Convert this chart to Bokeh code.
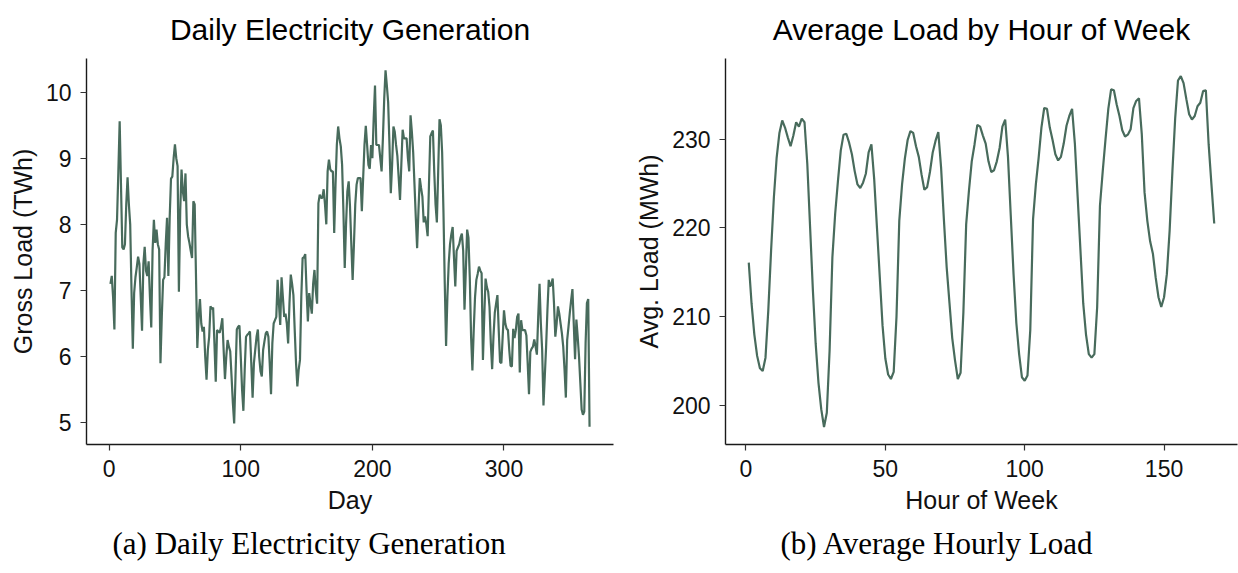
from bokeh.plotting import figure
from bokeh.models import Range1d, FixedTicker, Title
from bokeh.layouts import row
from bokeh.embed import file_html
from bokeh.resources import INLINE

# ---------------- data ----------------
gross_load = [
    7.10, 7.22, 6.90, 6.41, 7.87, 8.07, 8.80, 9.56, 8.60, 7.65,
    7.62, 7.70, 8.30, 8.71, 8.30, 8.00, 7.00, 6.12, 6.96, 7.20,
    7.35, 7.51, 7.40, 6.90, 6.39, 7.40, 7.66, 7.30, 7.22, 7.44,
    6.90, 6.44, 7.60, 8.07, 7.72, 7.92, 7.70, 7.62, 5.90, 6.60,
    7.16, 7.20, 7.70, 8.10, 7.22, 8.10, 8.69, 8.72, 9.00, 9.21,
    9.00, 8.88, 6.98, 8.20, 8.83, 8.50, 8.35, 8.77, 8.00, 7.82,
    7.72, 7.60, 7.49, 8.35, 8.30, 7.20, 6.13, 6.60, 6.87, 6.50,
    6.38, 6.45, 6.00, 5.65, 6.10, 6.30, 6.76, 6.72, 6.74, 6.20,
    5.62, 6.40, 6.38, 6.36, 6.45, 6.58, 6.10, 5.66, 6.00, 6.25,
    6.15, 6.08, 5.70, 5.30, 4.99, 5.70, 6.41, 6.45, 6.47, 6.00,
    5.50, 5.18, 5.80, 6.30, 6.33, 6.35, 6.38, 5.90, 5.38, 5.90,
    6.10, 6.30, 6.41, 6.00, 5.78, 5.70, 6.10, 6.23, 6.35, 6.38,
    6.30, 5.90, 5.43, 6.20, 6.50, 6.55, 6.60, 7.16, 6.80, 6.48,
    7.20, 6.90, 6.60, 6.65, 6.50, 6.20, 6.80, 7.24, 7.10, 6.93,
    6.40, 5.90, 5.55, 5.80, 5.95, 6.90, 7.49, 7.50, 7.55, 7.00,
    6.53, 6.96, 6.80, 6.65, 7.10, 7.31, 7.00, 6.80, 8.32, 8.45,
    8.40, 8.40, 8.53, 8.30, 8.00, 8.80, 8.98, 8.83, 8.80, 8.80,
    7.87, 8.60, 9.20, 9.48, 9.30, 9.18, 8.90, 8.20, 7.34, 8.00,
    8.50, 8.65, 8.27, 7.70, 7.16, 7.70, 8.30, 8.60, 8.70, 8.70,
    8.70, 8.20, 8.70, 9.20, 9.49, 9.20, 8.90, 8.84, 9.20, 9.00,
    9.60, 10.10, 9.20, 9.20, 9.20, 9.00, 8.80, 9.30, 9.90, 10.33,
    10.10, 9.84, 9.20, 8.47, 8.90, 9.48, 9.40, 9.20, 9.03, 8.70,
    8.37, 8.90, 9.43, 9.30, 9.30, 9.30, 9.00, 8.80, 9.65, 9.40,
    9.09, 8.60, 8.10, 7.64, 8.20, 8.70, 8.55, 8.42, 8.03, 8.12,
    8.00, 7.82, 8.60, 9.33, 9.38, 9.42, 8.80, 8.30, 8.03, 8.80,
    9.59, 9.50, 9.09, 8.20, 7.10, 6.16, 6.90, 7.41, 7.70, 7.85,
    7.96, 7.50, 7.06, 7.60, 7.65, 7.70, 7.80, 7.86, 7.60, 6.71,
    7.30, 7.92, 7.80, 7.20, 6.30, 5.79, 6.40, 6.90, 7.16, 7.25,
    7.36, 7.30, 7.26, 5.95, 6.60, 7.18, 7.05, 6.98, 6.75, 6.20,
    5.81, 6.30, 6.66, 6.80, 6.93, 6.40, 5.92, 5.90, 6.30, 6.70,
    6.50, 6.42, 6.40, 6.10, 5.86, 5.85, 6.42, 6.28, 6.40, 6.60,
    6.65, 5.76, 6.55, 6.40, 6.40, 6.40, 6.32, 5.90, 5.43, 6.07,
    6.12, 6.15, 6.26, 6.15, 6.03, 6.60, 7.10, 6.50, 6.10, 5.26,
    5.70, 6.15, 6.70, 7.16, 7.06, 7.10, 7.18, 6.80, 6.30, 6.50,
    6.76, 6.65, 6.50, 6.35, 6.15, 5.80, 5.38, 6.25, 6.45, 6.66,
    6.85, 7.02, 6.50, 5.96, 6.56, 6.30, 6.00, 5.60, 5.20, 5.12,
    5.17, 6.20, 6.81, 6.87, 4.94,
]
days = list(range(1, len(gross_load) + 1))

avg_load = [
    216.1, 211.5, 208.0, 205.6, 204.2, 203.9, 205.4, 210.7, 217.4, 223.4,
    227.9, 230.7, 232.1, 231.3, 230.2, 229.2, 230.4, 231.9, 231.4, 232.3,
    231.9, 227.2, 220.1, 213.0, 207.0, 202.6, 199.6, 197.6, 199.2, 206.2,
    216.7, 221.6, 225.3, 228.7, 230.5, 230.6, 229.6, 228.3, 226.4, 224.9,
    224.5, 225.1, 226.1, 228.5, 229.4, 225.5, 220.0, 214.5, 209.0, 205.3,
    203.5, 203.0, 203.8, 210.0, 220.8, 224.9, 227.8, 229.9, 230.9, 230.7,
    229.2, 228.0, 226.0, 224.3, 224.6, 226.3, 228.5, 229.8, 230.8, 226.8,
    221.0, 215.6, 211.6, 207.6, 205.1, 203.0, 203.7, 210.5, 220.4, 224.2,
    227.5, 229.4, 231.6, 231.4, 230.4, 229.5, 227.5, 226.3, 226.5, 227.5,
    229.0, 231.4, 232.2, 228.0, 221.4, 214.8, 209.3, 205.8, 203.2, 202.8,
    203.4, 208.5, 221.0, 224.9, 227.9, 231.3, 233.5, 233.4, 231.3, 229.9,
    228.3, 227.6, 228.0, 229.5, 231.5, 232.6, 233.4, 229.5, 223.5, 217.5,
    211.5, 208.0, 205.8, 205.4, 205.8, 211.1, 222.5, 226.4, 230.0, 233.4,
    235.6, 235.5, 233.9, 232.6, 231.0, 230.3, 230.5, 231.1, 233.5, 234.3,
    234.6, 230.6, 224.0, 220.8, 218.5, 217.1, 214.4, 212.2, 211.1, 212.2,
    214.8, 219.7, 226.4, 232.4, 236.6, 237.1, 236.3, 234.5, 232.8, 232.2,
    232.6, 233.7, 234.1, 235.4, 235.5, 229.4, 224.9, 220.5,
]
hours = list(range(1, len(avg_load) + 1))

day_ticks = [0, 100, 200, 300]
gross_ticks = [5, 6, 7, 8, 9, 10]
hour_ticks = [0, 50, 100, 150]
avg_ticks = [200, 210, 220, 230]

LINE_COLOR = "#486b5c"
SANS = "Liberation Sans"
SERIF = "Liberation Serif"


def padded(vals, lo_frac=0.05, hi_frac=0.05):
    lo, hi = min(vals), max(vals)
    span = hi - lo
    return Range1d(lo - span * lo_frac, hi + span * hi_frac)


def make_panel(x, y, xticks, yticks, title, xlabel, ylabel, caption, cap_offset,
               width, bl, br, y_hi_frac=0.05):
    p = figure(width=width, height=573, output_backend="svg",
               toolbar_location=None, x_range=padded(x),
               y_range=padded(y, 0.05, y_hi_frac),
               min_border_left=bl, min_border_right=br,
               min_border_top=58, min_border_bottom=129)
    p.line(x, y, line_color=LINE_COLOR, line_width=2.2)
    p.xgrid.visible = False
    p.ygrid.visible = False
    p.outline_line_color = None
    p.background_fill_color = "white"
    p.border_fill_color = "white"

    p.title.text = title
    p.title.align = "center"
    p.title.vertical_align = "top"
    p.title.text_font = SANS
    p.title.text_font_size = "30px"
    p.title.text_font_style = "normal"
    p.title.text_color = "#000000"
    p.title.standoff = 22

    p.xaxis.ticker = FixedTicker(ticks=xticks)
    p.yaxis.ticker = FixedTicker(ticks=yticks)
    p.xaxis.axis_label = xlabel
    p.yaxis.axis_label = ylabel
    for ax in (p.xaxis[0], p.yaxis[0]):
        ax.axis_line_color = "#1a1a1a"
        ax.axis_line_width = 1.4
        ax.major_tick_line_color = "#333333"
        ax.major_tick_line_width = 1.2
        ax.major_tick_out = 6
        ax.major_tick_in = 0
        ax.minor_tick_line_color = None
        ax.major_label_standoff = 9
        ax.major_label_text_font = SANS
        ax.major_label_text_font_size = "23px"
        ax.major_label_text_color = "#111111"
        ax.axis_label_text_font = SANS
        ax.axis_label_text_font_size = "25px"
        ax.axis_label_text_font_style = "normal"
        ax.axis_label_text_color = "#111111"
        ax.axis_label_standoff = 6

    cap = Title(text=caption, align="left", offset=cap_offset, text_font=SERIF,
                text_font_size="31px", text_font_style="normal",
                text_color="#000000", standoff=14)
    p.add_layout(cap, "below")
    return p


pa = make_panel(days, gross_load, day_ticks, gross_ticks,
                "Daily Electricity Generation", "Day", "Gross Load (TWh)",
                "(a) Daily Electricity Generation", 26,
                width=620, bl=86, br=7, y_hi_frac=0.033)
pb = make_panel(hours, avg_load, hour_ticks, avg_ticks,
                "Average Load by Hour of Week", "Hour of Week", "Avg. Load (MWh)",
                "(b) Average Hourly Load", 55,
                width=618, bl=105, br=1)

layout = row(pa, pb)
open("out.html", "w").write(file_html(layout, INLINE))
